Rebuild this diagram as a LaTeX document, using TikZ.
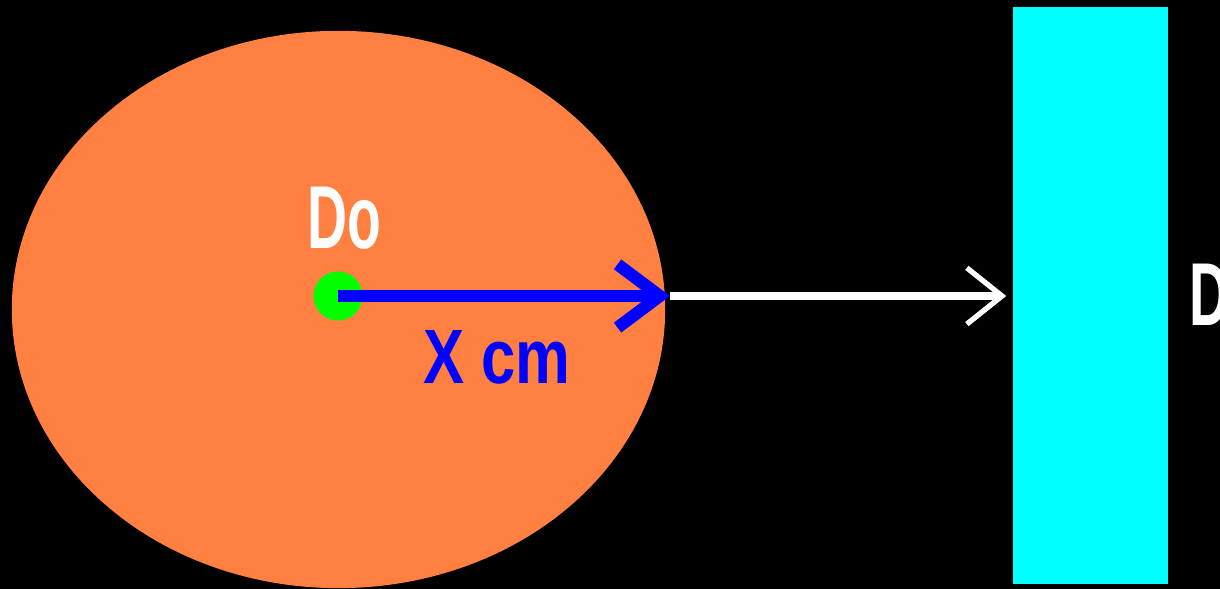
\documentclass[tikz,border=0pt]{standalone}
\usepackage{fontspec}
\setmainfont{Liberation Sans}
\usepackage{graphicx}
\usepackage{tikz}
\usetikzlibrary{arrows.meta,shapes.geometric}
\usepackage{xcolor}
\definecolor{ballorange}{HTML}{FF8040}
\definecolor{wallcyan}{HTML}{00FFFF}
\definecolor{dotgreen}{HTML}{00FF00}
\definecolor{rayblue}{HTML}{0000FF}
\tikzset{
  body/.style={draw=none,inner sep=0pt},
  bigtxt/.style={inner sep=0pt,font=\bfseries\fontsize{25.4}{30}\selectfont},
}
\begin{document}
\begin{tikzpicture}[x=0.01cm,y=-0.01cm,>=Latex]
\fill[black](0,0)rectangle(1220,589);
\useasboundingbox(0,0)rectangle(1220,589);
\node[body,ellipse,fill=ballorange,minimum width=6.53cm,minimum height=5.57cm](ball) at (338.5,309.5){};
\node[body,rectangle,fill=wallcyan,minimum width=1.55cm,minimum height=5.77cm](wall) at (1090.5,295.5){};
\node[body,circle,fill=dotgreen,minimum size=0.49cm](dot) at (338,296){};
\coordinate (edge) at (670,296);
\draw[rayblue,line width=3.5pt,-{Straight Barb[length=12pt,width=18pt,line width=3.5pt]}](dot.center)--(edge);
\draw[white,line width=2.3pt,shorten >=0.06cm,-{Straight Barb[length=10pt,width=16pt,line width=1.5pt]}](edge)--(edge-|wall.west);
\node[bigtxt,white,anchor=base](lblDo) at (344,249){\scalebox{0.62}[1]{Do}};
\node[bigtxt,rayblue,anchor=base,font=\bfseries\fontsize{21.9}{26}\selectfont](lblX) at (497,384){\scalebox{0.8}[1]{X cm}};
\node[bigtxt,white,anchor=base west](lblD) at (1189,326){\scalebox{0.62}[1]{D}};
\end{tikzpicture}
\end{document}
